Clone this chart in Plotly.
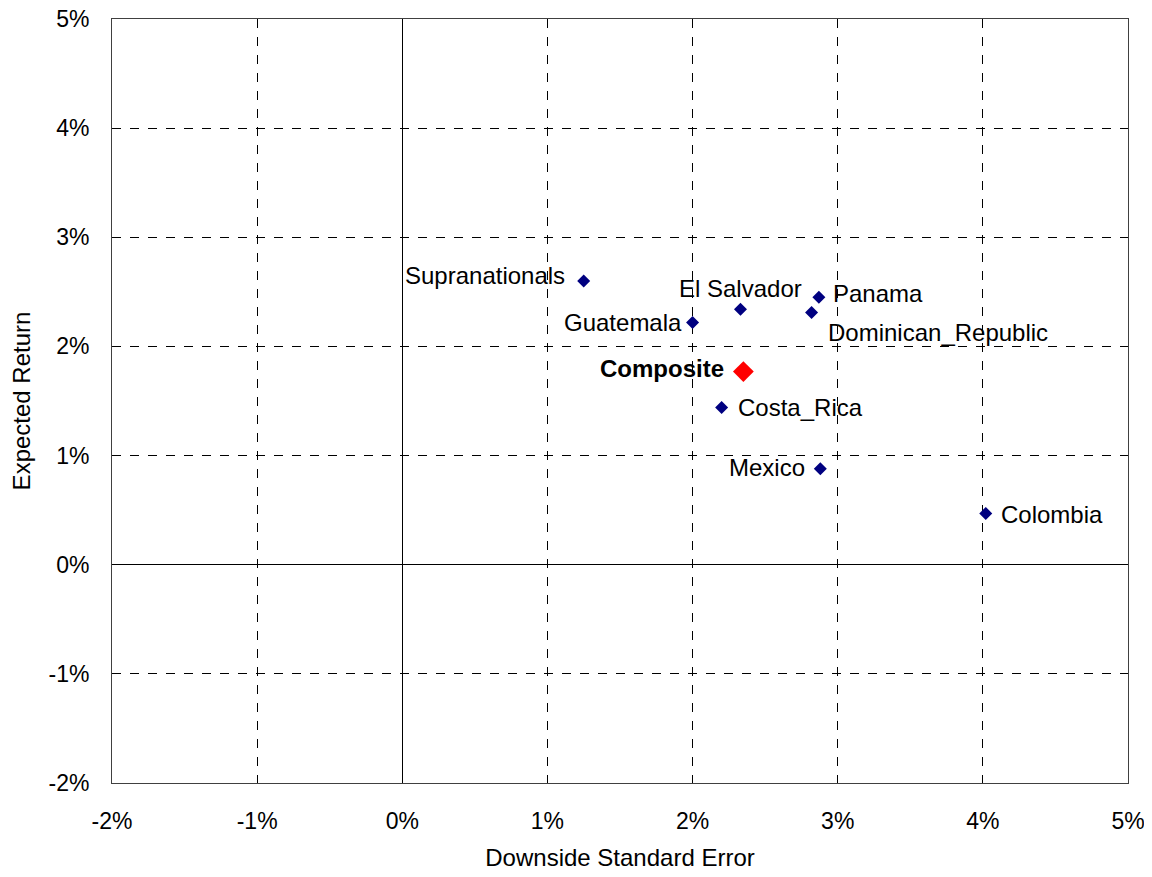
import plotly.graph_objects as go

# Risk / return per issuer (values in percent)
names = ['Supranationals', 'El Salvador', 'Panama', 'Dominican_Republic', 'Guatemala',
         'Costa_Rica', 'Mexico', 'Colombia']
downside_err = [1.25, 2.33, 2.87, 2.82, 2.00, 2.20, 2.88, 4.02]
exp_return = [2.60, 2.34, 2.45, 2.31, 2.22, 1.44, 0.88, 0.47]

composite_x = [2.35]
composite_y = [1.77]

tick_vals = [-2, -1, 0, 1, 2, 3, 4, 5]
tick_text = ['-2%', '-1%', '0%', '1%', '2%', '3%', '4%', '5%']

# label placement next to each marker: (xanchor, xshift, yshift) in pixels
label_place = [('right', -17, 5), ('center', 0, 21), ('left', 12, 4), ('left', 14, -20),
               ('right', -9, 0), ('left', 14, 0), ('right', -13, 1), ('left', 13, -1)]

FONT = 'Liberation Sans, Arial'

fig = go.Figure()

fig.add_trace(go.Scatter(
    x=downside_err, y=exp_return, mode='markers',
    marker=dict(symbol='diamond', size=10, color='#000080'),
    showlegend=False, cliponaxis=False
))

fig.add_trace(go.Scatter(
    x=composite_x, y=composite_y, mode='markers',
    marker=dict(symbol='diamond', size=16, color='#ff0000'),
    showlegend=False, cliponaxis=False
))

for name, xv, yv, (anchor, dx, dy) in zip(names, downside_err, exp_return, label_place):
    fig.add_annotation(x=xv, y=yv, text=name, showarrow=False,
                       xanchor=anchor, yanchor='middle', xshift=dx, yshift=dy,
                       font=dict(family=FONT, size=24, color='black'))

fig.add_annotation(x=composite_x[0], y=composite_y[0], text='<b>Composite</b>',
                   showarrow=False, xanchor='right', yanchor='middle', xshift=-17, yshift=3,
                   font=dict(family=FONT, size=24, color='black'))

axis_style = dict(
    range=[-2, 5], tickvals=tick_vals, ticktext=tick_text,
    showgrid=True, gridcolor='black', gridwidth=1, griddash='dash',
    zeroline=True, zerolinecolor='black', zerolinewidth=1,
    showline=True, linecolor='#404040', linewidth=1, mirror=True,
    ticks='', ticklabeloverflow='allow', automargin=False,
    tickfont=dict(family=FONT, size=23, color='black'),
    title_font=dict(family=FONT, size=24, color='black'),
)

# page body adds ~8px margin, so the figure is a bit smaller than the window
fig.update_layout(
    width=1144, height=869,
    margin=dict(l=104, r=24, t=11, b=94),
    plot_bgcolor='white', paper_bgcolor='white',
    xaxis=dict(axis_style, ticklabelstandoff=17,
               title=dict(text='Downside Standard Error', standoff=16)),
    yaxis=dict(axis_style, ticklabelstandoff=17,
               title=dict(text='Expected Return', standoff=13)),
)

fig.write_html('out.html')
